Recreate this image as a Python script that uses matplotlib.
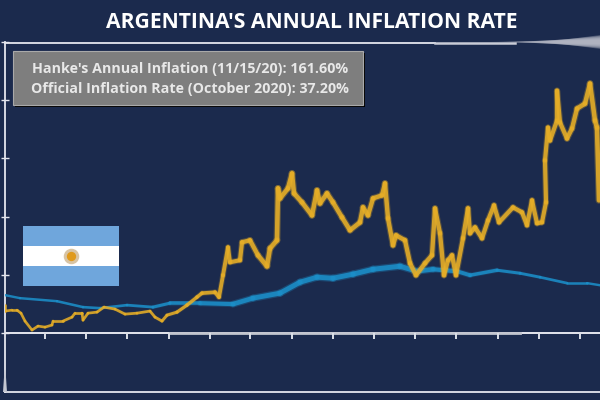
import numpy as np
import matplotlib
matplotlib.use("Agg")
import matplotlib.pyplot as plt
from matplotlib.collections import LineCollection
from matplotlib.patches import Rectangle, Polygon

title = "ARGENTINA'S ANNUAL INFLATION RATE"
box_lines = ["Hanke's Annual Inflation (11/15/20): 161.60%",
             "Official Inflation Rate (October 2020): 37.20%"]

hanke_x = [0, 0, 7, 12, 16, 20, 27, 33, 40, 47, 48, 58, 67, 70, 77, 78, 83, 92, 99, 110, 120, 132, 145, 150, 157, 162,
           172, 182, 192, 197, 210, 214, 218, 223, 225, 235, 237, 245, 253, 262, 265, 272, 273, 275, 283, 287, 289,
           297, 307, 312, 315, 322, 328, 337, 345, 355, 358, 363, 368, 377, 380, 383, 388, 391, 400, 405, 411, 420,
           427, 430, 435, 439, 443, 447, 451, 458, 463, 465, 470, 477, 483, 489, 494, 508, 517, 522, 527, 532, 537,
           541, 540, 543, 545, 552, 552, 555, 562, 567, 572, 580, 585, 590, 592, 594]
hanke_y = [24.0, 18.9, 19.7, 19.7, 17.1, 10.3, 2.6, 6.0, 5.1, 6.9, 10.3, 10.3, 13.7, 17.1, 17.1, 11.1, 17.1, 18.0,
           22.3, 20.6, 16.3, 17.1, 18.9, 13.7, 10.3, 15.4, 18.0, 24.0, 30.9, 34.3, 35.1, 30.9, 49.7, 73.7, 60.8,
           62.6, 78.0, 79.7, 66.8, 57.4, 72.8, 79.7, 124.3, 115.7, 124.3, 137.1, 120.0, 112.3, 101.1, 122.6, 111.4,
           120.0, 112.3, 99.4, 88.3, 95.1, 108.0, 101.1, 115.7, 118.3, 128.6, 98.6, 75.4, 84.0, 79.7, 60.0, 49.7,
           60.0, 66.8, 107.1, 85.7, 49.7, 62.6, 66.8, 49.7, 81.4, 107.1, 85.7, 90.8, 81.4, 96.8, 109.7, 95.1, 108.0,
           103.7, 92.6, 114.0, 94.3, 95.1, 112.3, 148.3, 176.5, 165.4, 182.5, 208.3, 180.8, 167.1, 175.7, 192.8,
           197.1, 214.3, 182.5, 176.5, 114.0]

official_x = [0, 15, 52, 78, 95, 122, 148, 165, 195, 228, 248, 275, 295, 312, 328, 348, 368, 395, 412, 428, 452, 465,
              492, 515, 535, 562, 582, 595]
official_y = [32.6, 30.0, 27.4, 22.3, 21.4, 24.0, 22.3, 25.7, 25.7, 24.9, 30.0, 34.3, 43.7, 48.0, 47.1, 50.6, 54.8,
              57.4, 53.1, 54.8, 53.1, 49.7, 54.0, 51.4, 48.0, 42.9, 42.9, 41.1]

y_ticks = [0, 50, 100, 150, 200, 250]
x_ticks = [40, 81, 122, 164, 205, 245, 287, 328, 369, 410, 451, 493, 534, 575]

bg = "#1b2a4d"
gold = "#e6ae27"
blue = "#1c8ec8"
axis_col = "#e4e6ee"


def draw_line(ax, x, y, color, stops, widths, z):
    pts = np.column_stack([x, y])
    segs = np.stack([pts[:-1], pts[1:]], axis=1)
    mids = (np.array(x[:-1]) + np.array(x[1:])) / 2
    lw = np.interp(mids, stops, widths)
    blur = np.clip((lw - 1.8) / 1.5, 0, 1)
    # soft halo where the original picture is blurred
    glow = [matplotlib.colors.to_rgba(color, 0.3 * b) for b in blur]
    ax.add_collection(LineCollection(segs, colors=glow, linewidths=lw * 1.5, capstyle="round", zorder=z))
    ax.add_collection(LineCollection(segs, colors=color, linewidths=lw, capstyle="round", alpha=0.88, zorder=z + 1))


fig = plt.figure(figsize=(6, 4), dpi=100, facecolor=bg)
ax = fig.add_axes([5 / 600, 8 / 400, 595 / 600, 350 / 400], facecolor=bg)
ax.set_xlim(0, 595)
ax.set_ylim(-50.6, 249.3)

draw_line(ax, official_x, official_y, blue, [0, 140, 250, 400, 500, 595], [1.7, 2.0, 3.5, 3.6, 2.2, 1.7], 2)
draw_line(ax, hanke_x, hanke_y, gold, [0, 150, 260, 540, 595], [1.9, 2.0, 3.3, 3.0, 3.3], 4)

ax.spines["right"].set_visible(False)
ax.spines["top"].set_visible(False)
for side in ["left", "bottom"]:
    ax.spines[side].set_color(axis_col)
    ax.spines[side].set_linewidth(1.3)

ax.set_yticks(y_ticks)
ax.set_yticklabels([])
ax.set_xticks([])
ax.tick_params(axis="y", direction="inout", length=6, width=1, color=axis_col)
ax.axhline(0, color=axis_col, lw=1.4, zorder=1)
ax.plot([165, 515], [0, 0], color="#c2c5cf", lw=2.0, zorder=1)
ax.plot(x_ticks, [0] * len(x_ticks), linestyle="none", marker=3, markersize=4, markeredgewidth=1.4,
        color="#dcdfe8", zorder=1)
ax.plot([0, 430], [249.3, 249.3], color=axis_col, lw=1.3, clip_on=False)
ax.plot([430, 510], [249.3, 249.3], color="#c9ccd7", lw=1.8, clip_on=False)

# top rule widens into a grey wedge at the right, fading out
for i in range(8):
    start = 490 + i * 8
    half = 2 + i * 0.7
    fig.add_artist(Polygon([[start / 600, 358 / 400], [600 / 600, (358 + half) / 400], [600 / 600, (358 - half) / 400]],
                           closed=True, facecolor="#b9bcc9", edgecolor="none", alpha=0.3,
                           transform=fig.transFigure))
fig.add_artist(Polygon([[4.5 / 600, 30 / 400], [5.5 / 600, 30 / 400], [7 / 600, 8 / 400], [3 / 600, 8 / 400]],
                       closed=True, facecolor="#c4c7d2", edgecolor="none", transform=fig.transFigure))

fig.text(312 / 600, 378 / 400, title, color="white", fontsize=15.2, fontweight="bold", family="Open Sans",
         ha="center", va="center")

# text box with hard shadow
fig.add_artist(Rectangle((15 / 600, 293 / 400), 350 / 600, 54 / 400, facecolor="black", edgecolor="none",
                         transform=fig.transFigure))
fig.add_artist(Rectangle((13 / 600, 295 / 400), 350 / 600, 54 / 400, facecolor="#7e7e7e", edgecolor="#a9a9a9",
                         linewidth=0.8, transform=fig.transFigure))
fig.text(32 / 600, 331 / 400, box_lines[0], color="#e8e8e8", fontsize=10.3, fontweight="bold", family="Open Sans",
         va="center")
fig.text(31 / 600, 311 / 400, box_lines[1], color="#e8e8e8", fontsize=10.3, fontweight="bold", family="Open Sans",
         va="center")

# flag
flag = fig.add_axes([23 / 600, 114 / 400, 96 / 600, 60 / 400])
flag.set_xlim(0, 96)
flag.set_ylim(0, 60)
flag.axis("off")
flag.add_patch(Rectangle((0, 0), 96, 60, facecolor="#6fa6dc", edgecolor="none"))
flag.add_patch(Rectangle((0, 20), 96, 20, facecolor="white", edgecolor="none"))
flag.scatter([47.5], [30], s=125, color="#d8c4a4", linewidths=0)
flag.scatter([47.5], [30], s=45, color="#e09a1c", linewidths=0)

fig.savefig("out.png", dpi=100, facecolor=bg)
